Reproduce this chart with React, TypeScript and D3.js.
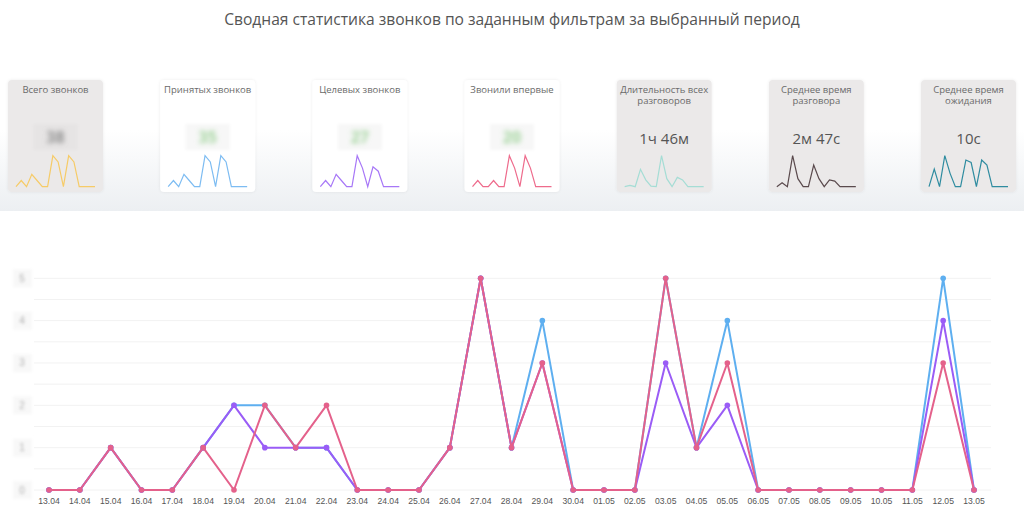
import React from "react";
import * as d3 from "d3";

const title = "Сводная статистика звонков по заданным фильтрам за выбранный период";

const dates = [
  "13.04","14.04","15.04","16.04","17.04","18.04","19.04","20.04","21.04","22.04",
  "23.04","24.04","25.04","26.04","27.04","28.04","29.04","30.04","01.05","02.05",
  "03.05","04.05","05.05","06.05","07.05","08.05","09.05","10.05","11.05","12.05","13.05",
];
const accepted = [0,0,1,0,0,1,2,2,1,1,0,0,0,1,5,1,4,0,0,0,5,1,4,0,0,0,0,0,0,5,0];
const targeted = [0,0,1,0,0,1,2,1,1,1,0,0,0,1,5,1,3,0,0,0,3,1,2,0,0,0,0,0,0,4,0];
const firstTime = [0,0,1,0,0,1,0,2,1,2,0,0,0,1,5,1,3,0,0,0,5,1,3,0,0,0,0,0,0,3,0];
const yTicks = [0, 1, 2, 3, 4, 5];

const cardTitles = [
  ["Всего звонков"],
  ["Принятых звонков"],
  ["Целевых звонков"],
  ["Звонили впервые"],
  ["Длительность всех", "разговоров"],
  ["Среднее время", "разговора"],
  ["Среднее время", "ожидания"],
];
const cardValues = ["38", "35", "27", "20", "1ч 46м", "2м 47с", "10с"];
const cardBlurred = [true, true, true, true, false, false, false];
const cardGray = [true, false, false, false, true, true, true];
const cardColors = ["#f6cb67", "#7dbcf2", "#a777f7", "#ee6b8c", "#a5ddd5", "#5a4a4d", "#2f8ca0"];

const spark1 = [0,1,0,2,1,0,0,5,4,0,5,4,0,0,0,0];
const spark2 = [0,1,0,2,1,0,0,5,4,0,5,4,0,0,0,0];
const spark3 = [0,1,0,2,1,0,0,5,3,0,3.2,2.5,0,0,0,0];
const spark4 = [0,1,0,0,1,0,0,5,3,0,5,3,0,0,0,0];
const spark5 = [0,0.2,0,2.8,1.1,0.1,0,5,1.3,0,1.5,1.1,0,0,0,0];
const spark6 = [0,0.65,0,5,1.3,0,0,3.5,1.3,0,1.1,0.9,0,0,0,0];
const spark7 = [0,2.85,0,5,2.15,0,0,4.3,3.9,0,4.3,3.5,0,0,0,0];
const sparks = [spark1, spark2, spark3, spark4, spark5, spark6, spark7];

const FONT = "'Open Sans', 'Noto Sans', sans-serif";

export default function App() {
  const x = d3.scalePoint<string>().domain(dates).range([49, 974]);
  const y = d3.scaleLinear().domain([0, 5]).range([490, 278.3]);
  const halfTicks = d3.range(0, 5.01, 0.5);

  const line = d3
    .line<number>()
    .x((_, i) => x(dates[i]) as number)
    .y((d) => y(d));

  const series = [
    { data: accepted, color: "#5eaff0" },
    { data: targeted, color: "#9a5cf6" },
    { data: firstTime, color: "#e4618b" },
  ];

  const cardX = d3.scaleLinear().domain([0, 6]).range([8, 921]);
  const cardW = 95;
  const sx = d3.scaleLinear().domain([0, 15]).range([8, 87]);
  const sy = d3.scaleLinear().domain([0, 5]).range([186.7, 155.7]);
  const sparkLine = d3
    .line<number>()
    .x((_, i) => sx(i))
    .y((d) => sy(d));

  return (
    <svg
      width={1024}
      height={521}
      style={{ position: "absolute", left: 0, top: 0, background: "#fff" }}
    >
      <defs>
        <linearGradient id="band" x1="0" y1="0" x2="0" y2="1">
          <stop offset="0" stopColor="#ffffff" />
          <stop offset="1" stopColor="#eceff2" />
        </linearGradient>
        <filter id="blur" x="-50%" y="-50%" width="200%" height="200%">
          <feGaussianBlur stdDeviation="2.8" />
        </filter>
        <filter id="blurSm" x="-50%" y="-50%" width="200%" height="200%">
          <feGaussianBlur stdDeviation="1.8" />
        </filter>
        <filter id="shadow" x="-20%" y="-20%" width="140%" height="140%">
          <feDropShadow dx="0" dy="0" stdDeviation="1.5" floodColor="#000" floodOpacity="0.08" />
        </filter>
      </defs>

      <rect x={0} y={130} width={1024} height={81} fill="url(#band)" />

      <text
        x={512}
        y={25}
        textAnchor="middle"
        fontFamily={FONT}
        fontSize={15.6}
        fill="#555"
      >
        {title}
      </text>

      {cardTitles.map((lines, i) => {
        const cx = cardX(i);
        const pts = sparks[i];
        return (
          <g key={i} transform={`translate(${cx},0)`}>
            <rect
              x={0}
              y={80}
              width={cardW}
              height={112}
              rx={4}
              fill={cardGray[i] ? "#ebe9e9" : "#ffffff"}
              filter="url(#shadow)"
            />
            {lines.map((t, j) => (
              <text
                key={j}
                x={cardW / 2}
                y={93 + j * 11}
                textAnchor="middle"
                fontFamily={FONT}
                fontSize={9.5}
                fill="#6a6a6a"
              >
                {t}
              </text>
            ))}
            {cardBlurred[i] ? (
              <g>
                <rect
                  x={cardW / 2 - 22}
                  y={124}
                  width={44}
                  height={26}
                  fill={cardGray[i] ? "#e6e4e4" : "#f7f7f7"}
                  filter="url(#blurSm)"
                />
                <text
                  x={cardW / 2}
                  y={143}
                  textAnchor="middle"
                  fontFamily={FONT}
                  fontSize={16}
                  fontWeight={700}
                  fill={i === 0 ? "#8f8f8f" : "#9fd39a"}
                  filter="url(#blur)"
                >
                  {cardValues[i]}
                </text>
              </g>
            ) : (
              <text
                x={cardW / 2}
                y={144}
                textAnchor="middle"
                fontFamily={FONT}
                fontSize={15}
                fill="#555"
              >
                {cardValues[i]}
              </text>
            )}
            <path
              d={sparkLine(pts) || ""}
              fill="none"
              stroke={cardColors[i]}
              strokeWidth={1.2}
              strokeLinejoin="miter"
            />
          </g>
        );
      })}

      {halfTicks.map((t) => (
        <line
          key={t}
          x1={34}
          x2={991}
          y1={y(t)}
          y2={y(t)}
          stroke="#f2f2f2"
          strokeWidth={1}
        />
      ))}

      {yTicks.map((t) => (
        <g key={t}>
          <rect
            x={13}
            y={y(t) - 9}
            width={19}
            height={18}
            fill="#f8f8f8"
            filter="url(#blurSm)"
          />
          <text
            x={22}
            y={y(t) + 3.5}
            textAnchor="middle"
            fontFamily="'Liberation Sans', Arial, sans-serif"
            fontSize={10}
            fill="#b0b0b0"
            filter="url(#blurSm)"
          >
            {t}
          </text>
        </g>
      ))}

      {dates.map((d) => (
        <text
          key={d}
          x={x(d)}
          y={504}
          textAnchor="middle"
          fontFamily="'Liberation Sans', Arial, sans-serif"
          fontSize={8.6}
          fill="#555"
        >
          {d}
        </text>
      ))}

      {series.map((s, si) => (
        <g key={si}>
          <path
            d={line(s.data) || ""}
            fill="none"
            stroke={s.color}
            strokeWidth={2}
            strokeLinejoin="round"
          />
          {s.data.map((v, i) => (
            <circle key={i} cx={x(dates[i])} cy={y(v)} r={2.8} fill={s.color} />
          ))}
        </g>
      ))}
    </svg>
  );
}
